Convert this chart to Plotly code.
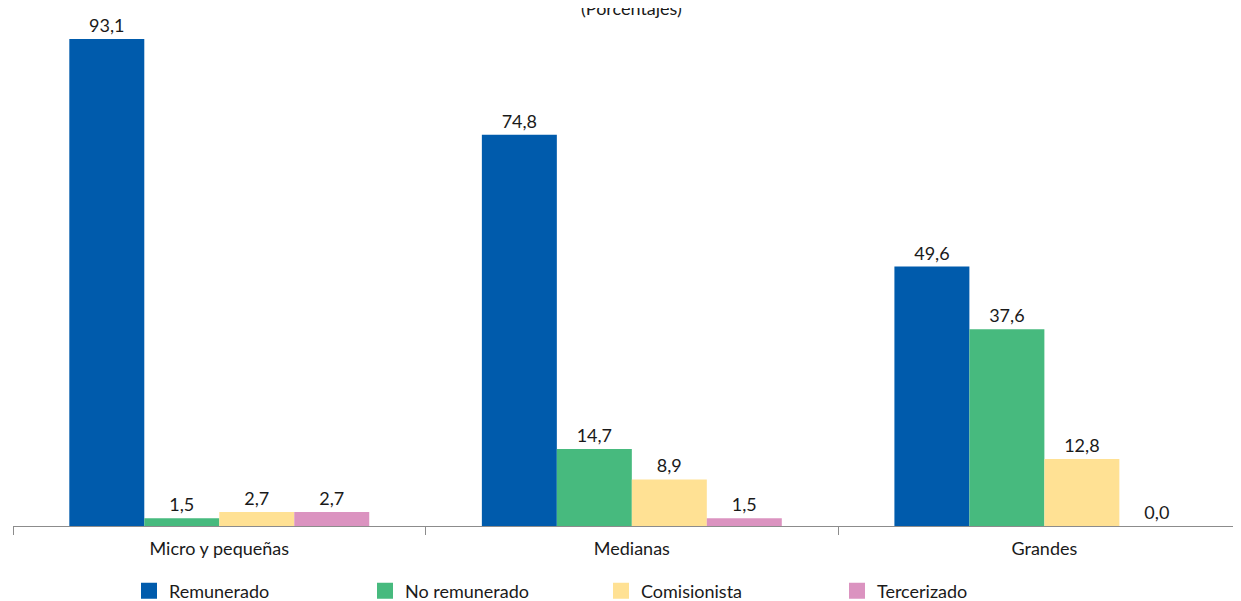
import plotly.graph_objects as go

categories = ["Micro y pequeñas", "Medianas", "Grandes"]
series_names = ["Remunerado", "No remunerado", "Comisionista", "Tercerizado"]
remunerado = [93.1, 74.8, 49.6]
no_remunerado = [1.5, 14.7, 37.6]
comisionista = [2.7, 8.9, 12.8]
tercerizado = [2.7, 1.5, 0.0]
colors = ["#005BAC", "#47BA7E", "#FFE194", "#DB93C0"]

values = [remunerado, no_remunerado, comisionista, tercerizado]
FONT = "Lato"
FS = 18

fig = go.Figure()
for name, vals, col in zip(series_names, values, colors):
    fig.add_trace(go.Bar(
        x=categories, y=vals, name=name, marker=dict(color=col, line=dict(width=0)),
        texttemplate="%{y:.1f}", textposition="outside", cliponaxis=False,
        textfont=dict(family=FONT, size=FS, color="#1a1a1a"),
        showlegend=False,
    ))
    fig.add_trace(go.Scatter(
        x=[None], y=[None], mode="markers", name=name,
        marker=dict(symbol="square", size=20, color=col),
        showlegend=True,
    ))

fig.add_annotation(text="(Porcentajes)", xref="paper", yref="paper",
                   x=0.5, y=1, yanchor="middle", yshift=12, showarrow=False,
                   font=dict(family=FONT, size=FS, color="#1a1a1a"))

fig.update_layout(
    template="none",
    width=1241, height=601,
    margin=dict(l=5, r=0, t=12, b=83, autoexpand=False),
    paper_bgcolor="white", plot_bgcolor="white",
    barmode="group", bargap=0.273, bargroupgap=0,
    separators=",.",
    font=dict(family=FONT, size=FS, color="#1a1a1a"),
    xaxis=dict(range=[-0.5, 2.496], showline=True, linecolor="#8c8c8c", linewidth=1,
               ticks="outside", tickson="boundaries", ticklen=8, tickcolor="#8c8c8c",
               ticklabelstandoff=6,
               showgrid=False, zeroline=False, automargin=False,
               tickfont=dict(family=FONT, size=FS, color="#1a1a1a")),
    yaxis=dict(range=[0, 96.73], visible=False, showgrid=False, zeroline=False,
               automargin=False),
    legend=dict(orientation="h", xref="container", yref="container",
                x=121 / 1241, y=18 / 601, xanchor="left", yanchor="middle",
                entrywidth=191, entrywidthmode="pixels",
                bgcolor="rgba(0,0,0,0)",
                font=dict(family=FONT, size=FS, color="#1a1a1a")),
)

fig.write_html("out.html")
